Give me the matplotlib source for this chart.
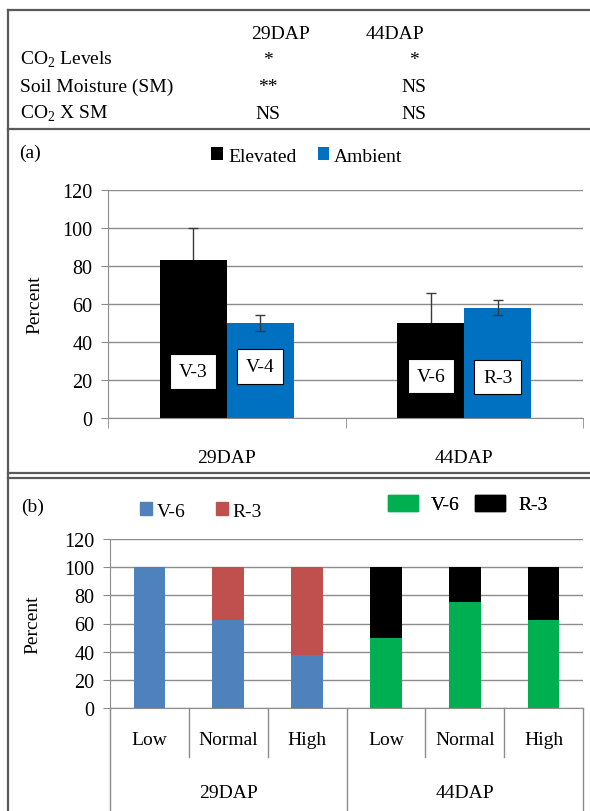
import matplotlib
matplotlib.use("Agg")
import matplotlib.pyplot as plt
from matplotlib.patches import Patch
from matplotlib.lines import Line2D
import numpy as np

plt.rcParams['font.family'] = ['Liberation Serif', 'DejaVu Serif']
plt.rcParams['mathtext.fontset'] = 'custom'
plt.rcParams['mathtext.rm'] = 'Liberation Serif'
plt.rcParams['font.size'] = 14

# ---- data ----
table_cols = ['29DAP', '44DAP']
table_rows = ['CO$_2$ Levels', 'Soil Moisture (SM)', 'CO$_2$ X SM']
sig_29 = ['*', '**', 'NS']
sig_44 = ['*', 'NS', 'NS']

days = ['29DAP', '44DAP']
elevated = [83, 50]
elevated_err = [17, 16]
ambient = [50, 58]
ambient_err = [4, 4]
stage_elev = ['V-3', 'V-6']
stage_amb = ['V-4', 'R-3']
stage_elev_y = [24.5, 22]
stage_amb_y = [27, 21.5]

moisture = ['Low', 'Normal', 'High']
v6_29 = [100, 62.5, 37.5]
r3_29 = [0, 37.5, 62.5]
v6_44 = [50, 75, 62.5]
r3_44 = [50, 25, 37.5]

W, H = 590, 812
GRID = '#8c8c8c'
FRAME = '#5a5a5a'

fig = plt.figure(figsize=(W / 100, H / 100), dpi=100)

def px_axes(left, top, right, bottom):
    return fig.add_axes([left / W, 1 - bottom / H, (right - left) / W, (bottom - top) / H])

# background layer for frame, table and legends
bg = fig.add_axes([0, 0, 1, 1])
bg.set_xlim(0, W)
bg.set_ylim(H, 0)
bg.axis('off')
for y in [11, 130, 474, 479]:
    bg.plot([7.5, W], [y, y], color=FRAME, lw=1.6)
bg.plot([7.5, 7.5], [11, H], color=FRAME, lw=1.6)

# significance table
bg.text(280, 39, table_cols[0], ha='center', va='baseline')
bg.text(395, 39, table_cols[1], ha='center', va='baseline')
for i, lab in enumerate(table_rows):
    yb = 65 + 27 * i
    bg.text(20, yb, lab, ha='left', va='baseline')
    bg.text(268, yb, sig_29[i], ha='center', va='baseline')
    bg.text(414, yb, sig_44[i], ha='center', va='baseline')

def style_axis(ax):
    ax.set_ylim(0, 120)
    ax.set_yticks(np.arange(0, 121, 20))
    ax.grid(axis='y', color=GRID, lw=1)
    ax.set_axisbelow(True)
    for s in ['top', 'right']:
        ax.spines[s].set_visible(False)
    ax.spines['left'].set_color(GRID)
    ax.spines['bottom'].set_color(GRID)
    ax.tick_params(axis='y', length=5, color=GRID, pad=6, labelsize=14.5)
    ax.set_ylabel('Percent', fontsize=14)

def add_legend(handles, labels, center, **kw):
    leg = bg.legend(handles, labels, loc='center', bbox_to_anchor=center,
                    bbox_transform=bg.transData, ncol=2, frameon=False, fontsize=14, **kw)
    bg.add_artist(leg)

# ---- panel (a) ----
bg.text(19, 153, '(a)', ha='left', va='center', fontsize=14)
ax1 = px_axes(108, 191, 583, 419)
style_axis(ax1)
ax1.yaxis.set_label_coords(-0.137, 0.5)
x = np.arange(len(days))
bw = 0.282
b_el = ax1.bar(x - bw / 2, elevated, bw, color='black', zorder=2)
b_am = ax1.bar(x + bw / 2, ambient, bw, color='#0070C0', zorder=2)
# elevated error bars sit behind the black bars, so only the upper arm shows
ax1.errorbar(x - bw / 2, elevated, yerr=elevated_err, fmt='none', ecolor='#3a3a3a',
             elinewidth=1, capsize=3.5, capthick=1, zorder=1.5)
ax1.errorbar(x + bw / 2, ambient, yerr=ambient_err, fmt='none', ecolor='#3a3a3a',
             elinewidth=1, capsize=3.5, capthick=1, zorder=3)
box = dict(boxstyle='square,pad=0.45', fc='white', ec='black', lw=0.8)
for i in range(len(days)):
    ax1.text(x[i] - bw / 2, stage_elev_y[i], stage_elev[i], ha='center', va='center',
             fontsize=14, bbox=box, zorder=4)
    ax1.text(x[i] + bw / 2, stage_amb_y[i], stage_amb[i], ha='center', va='center',
             fontsize=14, bbox=box, zorder=4)
ax1.set_xlim(-0.5, len(days) - 0.5)
ax1.set_xticks(x)
ax1.set_xticklabels(days)
ax1.set_xticks(np.arange(-0.5, len(days), 1.0), minor=True)
ax1.tick_params(axis='x', which='major', length=0, pad=22, labelsize=14)
ax1.tick_params(axis='x', which='minor', length=7, color=GRID, direction='out')
add_legend([b_el, b_am], ['Elevated', 'Ambient'], (307, 157),
           handlelength=0.6, handleheight=0.6, handletextpad=0.25, columnspacing=1.1)

# ---- panel (b) ----
bg.text(21, 507, '(b)', ha='left', va='center', fontsize=14)
ax2 = px_axes(110, 540, 583, 709)
style_axis(ax2)
ax2.yaxis.set_label_coords(-0.144, 0.5)
n = len(moisture)
xb = np.arange(2 * n)
bw2 = 0.4
ax2.bar(xb[:n], v6_29, bw2, color='#4F81BD')
ax2.bar(xb[:n], r3_29, bw2, bottom=v6_29, color='#C0504D')
ax2.bar(xb[n:], v6_44, bw2, color='#00B050')
ax2.bar(xb[n:], r3_44, bw2, bottom=v6_44, color='black')
ax2.set_xlim(-0.5, 2 * n - 0.5)
ax2.set_xticks([])
tr = ax2.get_xaxis_transform()
for i, xv in enumerate(xb):
    ax2.text(xv, -0.185, moisture[i % n], transform=tr, ha='center', va='center', fontsize=14)
for g, lab in enumerate(days):
    ax2.text(g * n + (n - 1) / 2, -0.5, lab, transform=tr, ha='center', va='center', fontsize=14)
for xv in np.arange(-0.5, 2 * n, 1.0):
    full = abs((xv + 0.5) % n) < 1e-9
    ax2.add_line(Line2D([xv, xv], [0, -0.62 if full else -0.29], transform=tr,
                        color=GRID, lw=1, clip_on=False))

add_legend([Patch(color='#4F81BD'), Patch(color='#C0504D')], ['V-6', 'R-3'], (201, 512),
           handlelength=0.6, handleheight=0.6, handletextpad=0.25, columnspacing=1.6)
add_legend([Patch(color='#00B050'), Patch(color='black')], ['V-6', 'R-3'], (468, 505),
           handlelength=1.5, handleheight=0.9, handletextpad=0.7, columnspacing=0.8)

fig.savefig('out.png', dpi=100)
